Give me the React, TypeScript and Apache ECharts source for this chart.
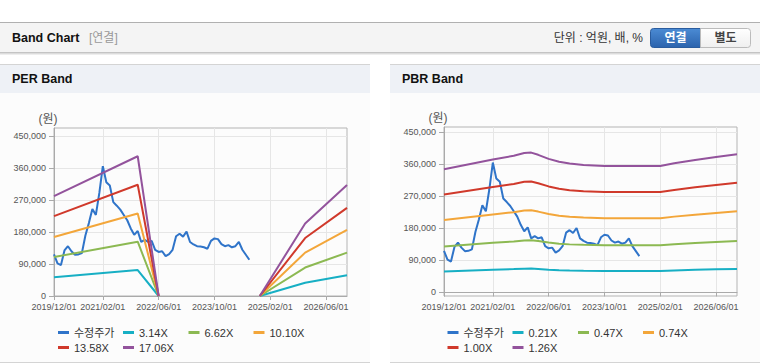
import React, { useEffect, useRef } from 'react';
import * as echarts from 'echarts';

// ---------- data ----------
function buildMonths(): string[] {
  const out: string[] = [];
  let y = 2019;
  let m = 12;
  for (let i = 0; i < 85; i++) {
    out.push(`${y}/${String(m).padStart(2, '0')}/01`);
    m++;
    if (m > 12) { m = 1; y++; }
  }
  return out;
}
const categories = buildMonths(); // 2019/12/01 .. 2026/12/01 (monthly)

const tickLabels = ['2019/12/01', '2021/02/01', '2022/06/01', '2023/10/01', '2025/02/01', '2026/06/01'];
const yTicks = [0, 90000, 180000, 270000, 360000, 450000];

// 수정주가 (monthly, 2019/12 .. 2024/08)
const price = [
  117000, 92000, 87000, 128000, 140000, 126000, 116000, 117000, 121000, 170000,
  205000, 245000, 228000, 290000, 365000, 320000, 311000, 264000, 254000, 243000,
  228000, 213000, 190000, 172000, 183000, 152000, 158000, 152000, 155000, 130000,
  124000, 126000, 112000, 118000, 130000, 168000, 175000, 167000, 181000, 152000,
  145000, 140000, 139000, 137000, 133000, 155000, 162000, 160000, 146000, 140000,
  143000, 137000, 140000, 152000, 130000, 116000, 102000,
];

// PER band vertices
const perDates = ['2019/12/01', '2021/12/01', '2022/06/01', '2023/06/01', '2024/11/01', '2025/12/01', '2026/12/01'];
const per314 = [52500, 73000, 0, null, 0, 37500, 58500];
const per662 = [109500, 152800, 0, null, 0, 80000, 122000];
const per1010 = [166000, 232000, 0, null, 0, 122000, 186000];
const per1358 = [224500, 313000, 0, null, 0, 163000, 248000];
const per1706 = [281000, 393000, 0, null, 0, 204000, 312000];

// PBR band vertices
const pbrDates = [
  '2019/12/01', '2021/02/01', '2021/08/01', '2021/11/01', '2022/01/01', '2022/03/01', '2022/06/01', '2022/09/01',
  '2022/12/01', '2023/04/01', '2023/10/01', '2025/02/01', '2025/06/01', '2025/12/01', '2026/06/01', '2026/12/01',
];
const pbr021 = [59100, 63700, 65600, 66900, 67100, 66000, 64100, 62700, 61800, 61200, 60600, 60600, 61900, 63500, 64900, 66200];
const pbr047 = [129300, 139400, 143400, 146200, 146600, 144300, 140100, 137000, 135100, 133700, 132500, 132500, 135400, 138900, 141900, 144800];
const pbr074 = [203500, 219400, 225700, 230100, 230900, 227200, 220500, 215700, 212800, 210500, 208700, 208700, 213100, 218700, 223500, 227900];
const pbr100 = [275000, 296500, 305000, 311000, 312000, 307000, 298000, 291500, 287500, 284500, 282000, 282000, 288000, 295500, 302000, 308000];
const pbr126 = [346500, 373600, 384300, 391900, 393100, 386800, 375500, 367300, 362300, 358500, 355300, 355300, 362900, 372300, 380500, 388100];

const perNames = ['3.14X', '6.62X', '10.10X', '13.58X', '17.06X'];
const pbrNames = ['0.21X', '0.47X', '0.74X', '1.00X', '1.26X'];

// ---------- styles ----------
const FONT = "'Liberation Sans', Arial, 'Noto Sans CJK KR', sans-serif";
const BLUE = '#2f74c9';
const BAND_COLORS = ['#17afc4', '#8cb952', '#f3a63a', '#d0392b', '#93539c'];

const isTick = (_i: number, v: string) => tickLabels.includes(v);

function makeX(gridIndex: number) {
  return {
    type: 'category',
    gridIndex,
    data: categories,
    boundaryGap: false,
    axisLine: { show: true, lineStyle: { color: '#aaaaaa' } },
    axisTick: { show: true, interval: isTick, length: 4, lineStyle: { color: '#aaaaaa' } },
    axisLabel: { interval: isTick, fontSize: 9, color: '#555', margin: 6, fontFamily: FONT },
    splitLine: { show: true, interval: isTick, lineStyle: { color: '#e6e6e6' } },
  };
}

function makeY(gridIndex: number, min: number, max: number) {
  return {
    type: 'value',
    gridIndex,
    min,
    max,
    name: '(원)',
    nameLocation: 'end',
    nameGap: 3,
    nameTextStyle: { color: '#555', fontSize: 12, fontFamily: FONT, align: 'center', padding: [0, 12, 0, 0] },
    axisLine: { show: true, lineStyle: { color: '#aaaaaa' } },
    axisTick: { show: true, length: 5, customValues: yTicks, lineStyle: { color: '#aaaaaa' } },
    axisLabel: {
      customValues: yTicks,
      formatter: (v: number) => Number(v).toLocaleString('en-US'),
      fontSize: 9,
      color: '#555',
      margin: 8,
      fontFamily: FONT,
    },
    splitLine: { show: true, lineStyle: { color: '#e6e6e6' } },
  };
}

function legendItem(left: number, top: number, name: string) {
  return {
    left,
    top,
    orient: 'horizontal',
    itemWidth: 11,
    itemHeight: 3,
    itemGap: 5,
    icon: 'rect',
    selectedMode: false,
    data: [name],
    textStyle: { fontSize: 11, color: '#333', fontFamily: FONT },
  };
}

function bandSeries(name: string, color: string, dates: string[], vals: (number | null)[], idx: number) {
  return {
    name,
    type: 'line',
    xAxisIndex: idx,
    yAxisIndex: idx,
    symbol: 'none',
    silent: true,
    connectNulls: false,
    lineStyle: { width: 2, color },
    itemStyle: { color },
    data: dates.map((d, i) => [d, vals[i] == null ? '-' : vals[i]]),
  };
}

function priceSeries(idx: number) {
  return {
    name: '수정주가',
    type: 'line',
    xAxisIndex: idx,
    yAxisIndex: idx,
    symbol: 'none',
    silent: true,
    lineStyle: { width: 2, color: BLUE },
    itemStyle: { color: BLUE },
    data: price,
  };
}

function text(x: number, y: number, str: string, opts: any = {}) {
  return {
    type: 'text',
    x,
    y,
    silent: true,
    z: 5,
    style: {
      text: str,
      fill: opts.fill || '#333',
      fontSize: opts.fontSize || 12,
      fontWeight: opts.fontWeight || 'normal',
      fontFamily: FONT,
      align: opts.align || 'left',
      textAlign: opts.align || 'left',
      verticalAlign: 'middle',
      textVerticalAlign: 'middle',
    },
  };
}

function rect(x: number, y: number, w: number, h: number, style: any, z = -10, r: any = 0) {
  return { type: 'rect', silent: true, z, shape: { x, y, width: w, height: h, r }, style };
}

function line(x1: number, y1: number, x2: number, y2: number, stroke: string, z = -9) {
  return { type: 'line', silent: true, z, shape: { x1, y1, x2, y2 }, style: { stroke, lineWidth: 1 } };
}

function panel(x: number, w: number, title: string) {
  return [
    rect(x, 64, w, 298, { fill: '#fcfcfc' }),
    rect(x, 64, w, 29, { fill: '#eef1f6' }),
    line(x, 64.5, x + w, 64.5, '#d4d4d4'),
    line(x, 362.5, x + w, 362.5, '#d4d4d4'),
    text(x + 12, 79, title, { fontWeight: 'bold', fill: '#111', fontSize: 12.5 }),
  ];
}

export default function App() {
  const ref = useRef<HTMLDivElement>(null);

  useEffect(() => {
    if (!ref.current) return;
    const chart = echarts.init(ref.current, null, { renderer: 'svg' });

    const perVals = [per314, per662, per1010, per1358, per1706];
    const pbrVals = [pbr021, pbr047, pbr074, pbr100, pbr126];

    const graphics: any[] = [
      // header bar
      rect(0, 22, 760, 31, { fill: '#f4f4f4' }),
      line(0, 22.5, 760, 22.5, '#b0b0b0'),
      line(0, 52.5, 760, 52.5, '#c4c4c4'),
      line(0, 53.5, 760, 53.5, '#dcdcdc'),
      line(0, 54.5, 760, 54.5, '#eeeeee'),
      text(12, 38, 'Band Chart', { fontWeight: 'bold', fill: '#111', fontSize: 12.5 }),
      text(89, 38, '[연결]', { fill: '#999' }),
      text(643, 38, '단위 : 억원, 배, %', { align: 'right', fill: '#333' }),
      rect(650.5, 28.5, 50, 19, {
        fill: new echarts.graphic.LinearGradient(0, 0, 0, 1, [
          { offset: 0, color: '#4b8bd4' },
          { offset: 1, color: '#2b63ad' },
        ]),
        stroke: '#2a5c9e',
        lineWidth: 1,
      }, 1, [3, 0, 0, 3]),
      rect(700.5, 28.5, 50, 19, {
        fill: new echarts.graphic.LinearGradient(0, 0, 0, 1, [
          { offset: 0, color: '#ffffff' },
          { offset: 1, color: '#efefef' },
        ]),
        stroke: '#bbbbbb',
        lineWidth: 1,
      }, 1, [0, 3, 3, 0]),
      text(675.5, 38, '연결', { fontWeight: 'bold', fill: '#ffffff', align: 'center' }),
      text(725.5, 38, '별도', { fontWeight: 'bold', fill: '#444', align: 'center' }),
      ...panel(0, 370, 'PER Band'),
      ...panel(390, 370, 'PBR Band'),
    ];

    const perLegendNames = ['수정주가', ...perNames];
    const pbrLegendNames = ['수정주가', ...pbrNames];
    const colX = [0, 65, 130.5, 195.5];
    const legends: any[] = [];
    perLegendNames.forEach((n, i) => {
      legends.push(legendItem(53 + colX[i % 4], i < 4 ? 322 : 337, n));
    });
    pbrLegendNames.forEach((n, i) => {
      legends.push(legendItem(442.5 + colX[i % 4], i < 4 ? 322 : 337, n));
    });

    const option: any = {
      animation: false,
      backgroundColor: '#ffffff',
      textStyle: { fontFamily: FONT },
      graphic: { elements: graphics },
      grid: [
        { left: 54, top: 128, width: 293, height: 168, show: true, borderColor: '#b4b4b4', borderWidth: 1, containLabel: false },
        { left: 444, top: 127, width: 293, height: 169, show: true, borderColor: '#b4b4b4', borderWidth: 1, containLabel: false },
      ],
      xAxis: [makeX(0), makeX(1)],
      yAxis: [makeY(0, 0, 472500), makeY(1, -10000, 465000)],
      legend: legends,
      series: [
        priceSeries(0),
        ...perNames.map((n, i) => bandSeries(n, BAND_COLORS[i], perDates, perVals[i], 0)),
        priceSeries(1),
        ...pbrNames.map((n, i) => bandSeries(n, BAND_COLORS[i], pbrDates, pbrVals[i], 1)),
      ],
    };

    chart.setOption(option);
    return () => chart.dispose();
  }, []);

  return (
    <div
      ref={ref}
      style={{ position: 'absolute', left: 0, top: 0, width: 760, height: 364, background: '#fff' }}
    />
  );
}
